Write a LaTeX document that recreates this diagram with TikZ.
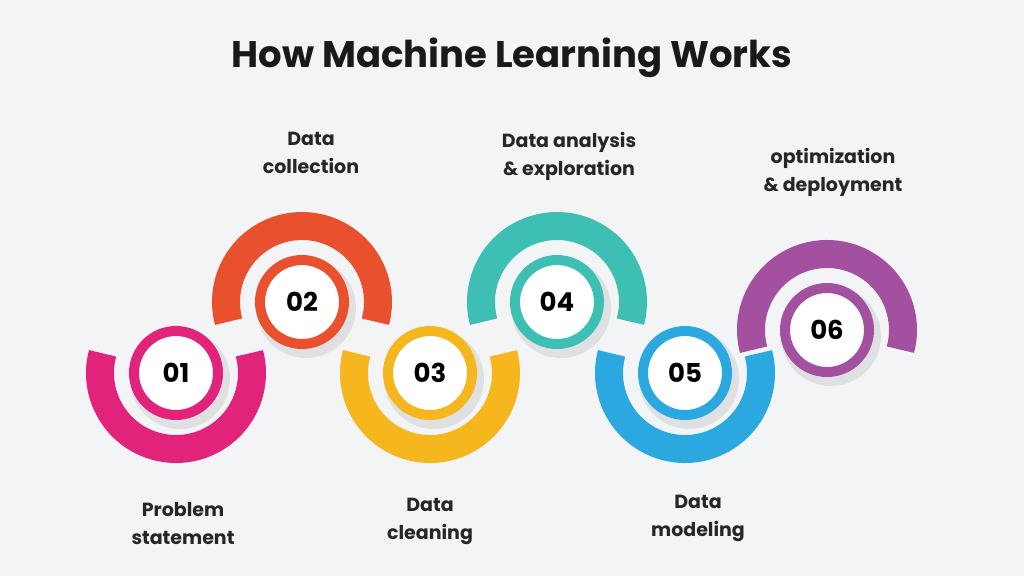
\documentclass[tikz,border=0pt]{standalone}
\usepackage{fontspec}
\setmainfont{Poppins}
\begin{document}
\begin{tikzpicture}[x=1pt,y=-1pt,
  band/.style={line width=28pt},
  numc/.style={circle,fill=white,draw=#1,line width=10pt,minimum size=84pt,inner sep=0pt,font=\fontsize{26}{28}\selectfont\bfseries},
  lbl/.style={align=center,font=\fontsize{19}{28}\selectfont\bfseries,text=black!85}]
\definecolor{bg}{HTML}{F3F4F6}
\definecolor{cA}{HTML}{E2237B}
\definecolor{cB}{HTML}{E9512E}
\definecolor{cC}{HTML}{F5B61E}
\definecolor{cD}{HTML}{3EBFB4}
\definecolor{cE}{HTML}{2BA8DF}
\definecolor{cF}{HTML}{A2509F}
\fill[bg] (0,0) rectangle (1024,576);
\useasboundingbox (0,0) rectangle (1024,576);
\node[font=\fontsize{37}{42}\selectfont\bfseries,text=black!90] (title) at (512,58) {How Machine Learning Works};
% bands
\draw[band,cA] (176,373) ++(195:76) arc[start angle=195,end angle=-15,radius=76];
\draw[band,cC] (430,373) ++(195:76) arc[start angle=195,end angle=-15,radius=76];
\draw[band,cE] (685,373) ++(195:76) arc[start angle=195,end angle=-15,radius=76];
\draw[band,cB] (302,302) ++(165:76) arc[start angle=165,end angle=375,radius=76];
\draw[band,cD] (557,302) ++(165:76) arc[start angle=165,end angle=375,radius=76];
\draw[band,cF] (827,330) ++(165:76) arc[start angle=165,end angle=375,radius=76];
% shadows
\foreach \x/\y in {176/373,302/302,430/373,557/302,685/373,827/330}
  \fill[black,opacity=0.08] (\x+4,\y+6) circle (50);
\node[numc=cA] (n1) at (176,373) {01};
\node[numc=cB] (n2) at (302,302) {02};
\node[numc=cC] (n3) at (430,373) {03};
\node[numc=cD] (n4) at (557,302) {04};
\node[numc=cE] (n5) at (685,373) {05};
\node[numc=cF] (n6) at (827,330) {06};
\node[lbl] (l2) at (311,153) {Data\\collection};
\node[lbl] (l4) at (569,156) {Data analysis\\\& exploration};
\node[lbl] (l6) at (833,172) {optimization\\\& deployment};
\node[lbl] (l1) at (183,524) {Problem\\statement};
\node[lbl] (l3) at (430,521) {Data\\cleaning};
\node[lbl] (l5) at (698,518) {Data\\modeling};
\end{tikzpicture}
\end{document}
